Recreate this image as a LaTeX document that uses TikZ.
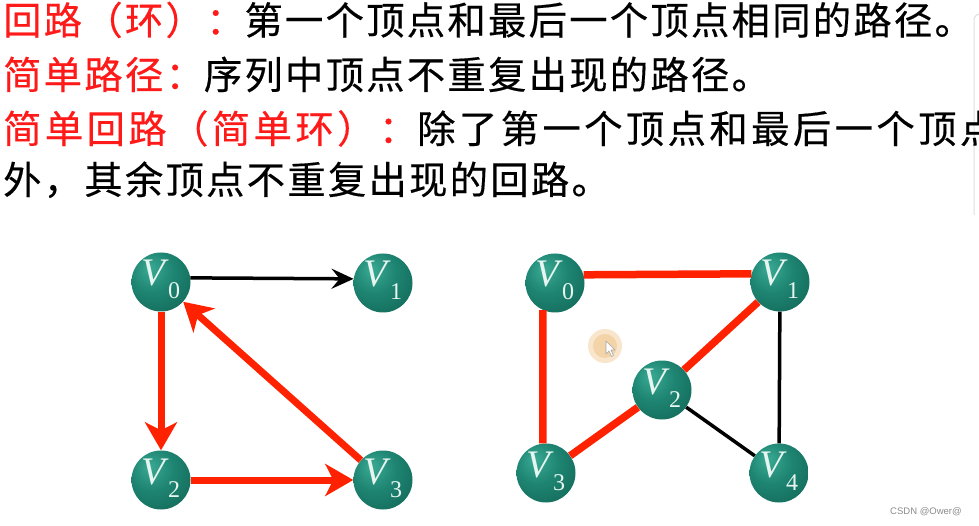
\documentclass[tikz,border=0pt]{standalone}
\usepackage{fontspec}
\setmainfont{Liberation Serif}
\newfontfamily\cjk[LetterSpace=6,FakeBold=0.4]{Noto Sans CJK SC}
\newfontfamily\cjkw[LetterSpace=9,FakeBold=0.4]{Noto Sans CJK SC}
\newfontfamily\wmfont{Liberation Sans}
\usetikzlibrary{arrows.meta}
\definecolor{tred}{HTML}{FF1A1A}
\definecolor{ered}{HTML}{FF2200}
\definecolor{tealA}{HTML}{3AAA94}
\definecolor{tealB}{HTML}{1E8572}
\definecolor{tealC}{HTML}{0E5C4E}
\definecolor{vtxt}{HTML}{E6F5F0}
\definecolor{blobc}{HTML}{F0CC98}
\pgfdeclareradialshading{vball}{\pgfpoint{-10bp}{12bp}}{color(0bp)=(tealA); color(18bp)=(tealB); color(48bp)=(tealC); color(75bp)=(tealC)}
\newcommand\vlab[1]{\fontsize{39}{39}\selectfont\textit{V}\kern-1.5pt\raisebox{-13pt}{\fontsize{24}{24}\selectfont #1}}
\tikzset{
  vtx/.style={circle, minimum size=59pt, inner sep=0pt, shading=vball, text=vtxt, text height=12pt, text depth=4pt},
  txt/.style={anchor=base west, inner sep=0pt, font=\cjk\fontsize{38.3}{38}\selectfont},
  txtw/.style={anchor=base west, inner sep=0pt, font=\cjkw\fontsize{38.3}{38}\selectfont},
  redarr/.style={draw=ered, line width=7pt, -{Stealth[length=28pt,width=32pt,inset=8pt]}},
  blkarr/.style={draw=black, line width=3.5pt, -{Stealth[length=22pt,width=20pt,inset=8pt]}},
  redl/.style={draw=ered, line width=7.5pt},
  blkl/.style={draw=black, line width=3.5pt}
}
\begin{document}
\begin{tikzpicture}[x=1pt,y=-1pt]
\useasboundingbox (0,0) rectangle (979,526);
\clip (0,0) rectangle (979,526);
\fill[white] (0,0) rectangle (979,526);
% faint screen edge
\draw[gray!25, line width=1pt, rounded corners=6pt] (985,14) -- (974,14) -- (974,215);
% text
\node[txt] (t1) at (3,34.5) {\textcolor{tred}{回路（环）：}第一个顶点和最后一个顶点相同的路径。};
\node[txt] (t2) at (3,89) {\textcolor{tred}{简单路径：}序列中顶点不重复出现的路径。};
\node[txtw] (t3) at (3,143) {\textcolor{tred}{简单回路（简单环）：}除了第一个顶点和最后一个顶点};
\node[txt] (t4) at (3,194) {外，其余顶点不重复出现的回路。};
% left graph
\node[vtx] (L0) at (161,282) {\vlab{0}};
\node[vtx] (L1) at (383,283) {\vlab{1}};
\node[vtx] (L2) at (161,480) {\vlab{2}};
\node[vtx] (L3) at (383,480) {\vlab{3}};
\draw[blkarr] (L0.8) -- (L1.172);
\draw[redarr] (L0) -- (L2);
\draw[redarr] (L2) -- (L3);
\draw[redarr] (L3) -- (L0);
% right graph
\node[vtx] (R0) at (555,283) {\vlab{0}};
\node[vtx] (R1) at (780,282) {\vlab{1}};
\node[vtx] (R2) at (662,390) {\vlab{2}};
\node[vtx] (R3) at (546,473) {\vlab{3}};
\node[vtx] (R4) at (779,473) {\vlab{4}};
\draw[redl] (R0.16) -- (R1.164);
\draw[redl] (R0.246) -- (R3.96);
\draw[redl] (R1) -- (R2);
\draw[redl] (R2) -- (R3);
\draw[blkl] (R1) -- (R4);
\draw[blkl] (R2) -- (R4);
% cursor highlight
\fill[blobc!50] (605,346) circle (17);
\fill[blobc!85] (605,346) circle (12);
\draw[gray!70, fill=white, line width=0.6pt, line join=round] (606,341) -- (606,354) -- (609,351) -- (611.5,356.5) -- (613.5,355.5) -- (611,350) -- (615,350) -- cycle;
% watermark
\node[anchor=west, inner sep=0pt, text=black!45, font=\wmfont\fontsize{9.5}{10}\selectfont] (wm) at (890,512) {CSDN @Ower@};
\end{tikzpicture}
\end{document}
